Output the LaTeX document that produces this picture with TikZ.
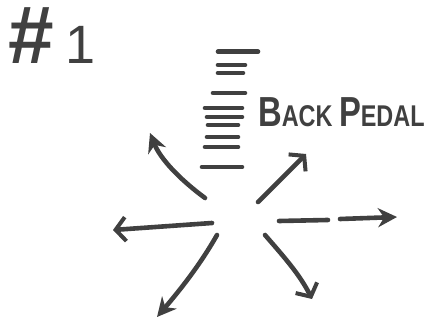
\documentclass[tikz,border=0pt]{standalone}
\usepackage{fontspec}
\setmainfont{Liberation Sans}
\usetikzlibrary{arrows.meta}
\definecolor{ink}{HTML}{404040}
\tikzset{
  stroke/.style={draw=ink, line width=4.6pt, line cap=round},
  dashline/.style={draw=ink, line width=4.6pt, line cap=round},
  fillhead/.style={stroke, -{Stealth[length=19pt,width=19pt]}},
  openhead/.style={stroke, -{Straight Barb[length=10pt,width=24pt,line width=4pt]}},
  inkfont/.style={text=ink, inner sep=0pt}
}
\newcommand{\bigsz}{\fontsize{42}{42}\selectfont}
\newcommand{\smallsz}{\fontsize{30}{30}\selectfont}
\begin{document}
\begin{tikzpicture}[x=1pt,y=-1pt]
\useasboundingbox[fill=white] (0,0) rectangle (433,328);
% title
\node[inkfont, anchor=base west] (title) at (8,64) {\fontsize{82}{82}\selectfont\bfseries\#\hspace{12pt}\fontsize{54}{54}\selectfont\mdseries 1};
% dash stack
\foreach \y/\a/\b in {51.7/218/258, 65/218/245, 73/218/243, 93/213/245, 108/205/242, 117/207/242, 125/208/238, 137/207/238, 147/205/238, 167/202/242}{
  \draw[dashline] (\a,\y) -- (\b,\y);
}
% label
\node[inkfont, anchor=base west, xscale=0.78] (bp) at (258,127) {\bfseries\bigsz B\smallsz ACK \bigsz P\smallsz EDAL};
% arrows
\coordinate (t1) at (205,198); \coordinate (h1) at (150,133);
\coordinate (t2) at (258,202); \coordinate (h2) at (306,154);
\coordinate (t3) at (212,223); \coordinate (h3) at (113,230);
\coordinate (t4) at (279,221); \coordinate (m4) at (328,220); \coordinate (n4) at (340,219); \coordinate (h4) at (397,217);
\coordinate (t5) at (217,235); \coordinate (h5) at (157,317);
\coordinate (t6) at (265,235); \coordinate (h6) at (312,299);
\draw[fillhead] (t1) .. controls (178,178) and (160,158) .. (h1);
\draw[openhead] (t2) -- (h2);
\draw[openhead] (t3) -- (h3);
\draw[stroke] (t4) -- (m4);
\draw[fillhead] (n4) -- (h4);
\draw[fillhead] (t5) .. controls (200,265) and (180,290) .. (h5);
\draw[openhead] (t6) .. controls (285,258) and (300,275) .. (h6);
\end{tikzpicture}
\end{document}
